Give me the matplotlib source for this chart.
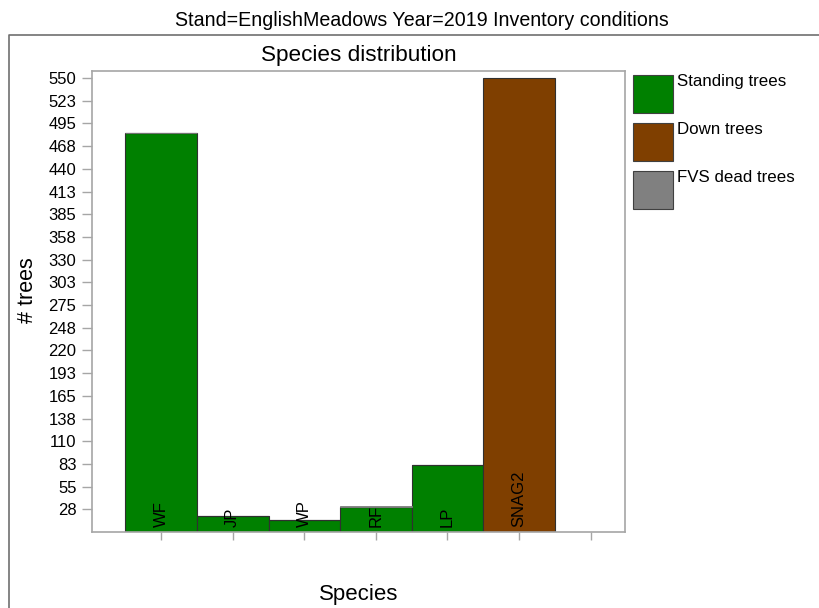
import matplotlib
matplotlib.use("Agg")
import matplotlib.pyplot as plt
from matplotlib.patches import Rectangle
from matplotlib.lines import Line2D
import numpy as np

plt.rcParams['font.family'] = ['Liberation Sans', 'DejaVu Sans']

# data
species = ['WF', 'JP', 'WP', 'RF', 'LP', 'SNAG2', '']
standing = [483, 19, 14, 30, 81, 0, 0]
down = [0, 0, 0, 0, 0, 550, 0]
fvs_dead = [1, 0, 0, 2, 0, 0, 0]
ymax = 550

green = '#008000'
brown = '#7f3f00'
grey = '#808080'
edge = '#303030'
axcol = '#a6a6a6'

W, H = 819, 608
fig = plt.figure(figsize=(W / 100, H / 100), dpi=100)
ax = fig.add_axes([91.7 / W, 1 - 532 / H, (625 - 91.7) / W, (532 - 71) / H])

x = np.arange(1, len(species) + 1)
n = 6  # only the real species get bars
ax.bar(x[:n], standing[:n], width=1.0, color=green, edgecolor=edge, linewidth=0.8)
ax.bar(x[:n], down[:n], width=1.0, bottom=standing[:n], color=brown,
       edgecolor=edge, linewidth=0.8)
bot2 = np.array(standing[:n]) + np.array(down[:n])
for xi, b, d in zip(x[:n], bot2, fvs_dead[:n]):
    if d > 0:
        ax.bar(xi, d, width=1.0, bottom=b, color=grey, edgecolor=grey, linewidth=0.6)

for xi, name in zip(x, species):
    if name:
        ax.annotate(name, (xi, 0), xytext=(0, 5), textcoords='offset pixels',
                    rotation=90, ha='center', va='bottom', fontsize=12)

ax.set_xlim(0.03, 7.48)
ax.set_ylim(0, ymax * 1.0155)

yt = np.arange(1, 21) * ymax / 20
ax.set_yticks(yt)
ax.set_yticklabels([str(int(v + 0.5)) for v in yt], fontsize=12)
ax.set_xticks(x)
ax.set_xticklabels([])
ax.tick_params(axis='both', colors=axcol, labelcolor='black', length=6, width=1)
ax.tick_params(axis='y', length=7, pad=4)
for s in ax.spines.values():
    s.set_color(axcol)
    s.set_linewidth(1.2)

ax.set_ylabel('# trees', fontsize=15.5)
ax.yaxis.label.set_va('center')
ax.yaxis.set_label_coords(-0.1204, 0.525)
ax.set_xlabel('Species', fontsize=16)
ax.xaxis.label.set_va('center')
ax.xaxis.set_label_coords(0.5, -0.1345)
ax.text(0.5, 1.0347, 'Species distribution', transform=ax.transAxes,
        ha='center', va='center', fontsize=16.2)

fig.text(422 / W, 1 - 21 / H, 'Stand=EnglishMeadows Year=2019 Inventory conditions',
         ha='center', va='center', fontsize=14.1)

# outer frame (partly outside the picture)
fig.add_artist(Line2D([9 / W, 9 / W, 1.0], [0.0, 1 - 35 / H, 1 - 35 / H],
                      transform=fig.transFigure, color='#707070', linewidth=1.2))

# legend
leg_labels = ['Standing trees', 'Down trees', 'FVS dead trees']
leg_colors = [green, brown, grey]
for i, (lab, col) in enumerate(zip(leg_labels, leg_colors)):
    top = 75 + 48 * i
    fig.add_artist(Rectangle((633 / W, 1 - (top + 38) / H), 40 / W, 38 / H,
                             transform=fig.transFigure, facecolor=col,
                             edgecolor='#404040', linewidth=0.8))
    fig.text(677 / W, 1 - (top - 1) / H, lab, ha='left', va='top', fontsize=12.2)

fig.savefig('out.png', dpi=100)
